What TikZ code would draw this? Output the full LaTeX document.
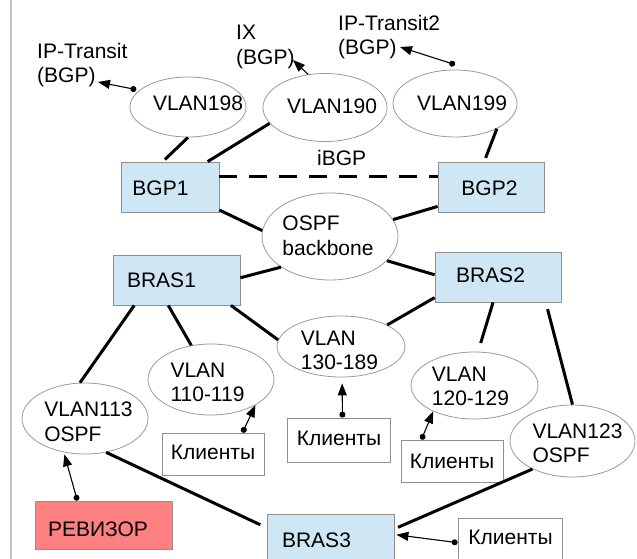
\documentclass[tikz,border=0pt]{standalone}
\usepackage{fontspec}
\setmainfont{Liberation Sans}
\usetikzlibrary{shapes.geometric,arrows.meta}
\definecolor{hostfill}{HTML}{CFE7F5}
\definecolor{auditfill}{HTML}{FF8080}
\definecolor{framegray}{HTML}{8F8F8F}
\definecolor{ringgray}{HTML}{9A9A9A}
\definecolor{railgray}{HTML}{C4C4C4}
\tikzset{
  every node/.style={font=\fontsize{21}{24.5}\selectfont, inner sep=0pt, text=black},
  vlan/.style={ellipse, draw=ringgray, line width=0.8pt, fill=white},
  router/.style={rectangle, draw=framegray, line width=0.8pt, fill=hostfill, minimum height=50pt},
  clients/.style={rectangle, draw=framegray, line width=0.8pt, fill=white, minimum width=102pt, minimum height=42pt},
  audit/.style={rectangle, draw=framegray, line width=0.8pt, fill=auditfill},
  caption/.style n args={3}{label={[xshift=#1pt, yshift=#2pt, align=left]center:#3}},
  link/.style={line width=3pt},
  peering/.style={line width=3pt, dash pattern=on 18pt off 12pt},
  feed/.style={line width=1.1pt, arrows={Circle[length=6pt]-Triangle[length=12pt,width=9pt]}},
  uplink/.style={line width=1.1pt, arrows={-Triangle[length=12pt,width=9pt]}},
  note/.style={anchor=north west, align=left},
}
\begin{document}
\begin{tikzpicture}[x=1pt,y=-1pt]
\useasboundingbox (0,0) rectangle (637,559);
\draw[railgray, line width=1.5pt] (11,0) -- (11,559);

% routers
\node[router, minimum width=98pt,  caption={-9.5}{-1.5}{BGP1}]  (bgp1)  at (170,187) {};
\node[router, minimum width=106pt, caption={-1.5}{-1.5}{BGP2}]  (bgp2)  at (491,187) {};
\node[router, minimum width=127pt, caption={-15}{0}{BRAS1}]     (bras1) at (176.5,280) {};
\node[router, minimum width=126pt, caption={-7.5}{1.5}{BRAS2}]  (bras2) at (498,277) {};
\node[router, minimum width=127pt, caption={-14}{-1.5}{BRAS3}]  (bras3) at (330.5,539) {};
\node[audit, minimum width=137pt, minimum height=48pt, caption={-5.5}{-4}{РЕВИЗОР}] (audit) at (103.5,525) {};

% subscriber groups
\node[clients, caption={0}{1.5}{Клиенты}] (k110) at (213,454) {};
\node[clients, minimum width=103pt, minimum height=44pt, caption={0.5}{1.3}{Клиенты}] (k130) at (338.5,440) {};
\node[clients, caption={0}{0}{Клиенты}] (k120) at (452,461) {};
\node[clients, minimum width=104pt, caption={0.5}{1.5}{Клиенты}] (k3) at (510,539) {};

% VLAN segments
\node[vlan, minimum width=116pt, minimum height=60pt, caption={10}{3.5}{VLAN198}] (v198) at (188,107) {};
\node[vlan, minimum width=124pt, minimum height=68pt, caption={7}{1}{VLAN190}] (v190) at (325,107.5) {};
\node[vlan, minimum width=124pt, minimum height=67pt, caption={7}{0}{VLAN199}] (v199) at (455,103.5) {};
\node[vlan, minimum width=136pt, minimum height=87pt, caption={-2}{0.5}{OSPF\\backbone}] (ospf) at (330,236.5) {};
\node[vlan, minimum width=128pt, minimum height=61pt, caption={-1.5}{-4}{VLAN\\130-189}] (v130) at (341,346.5) {};
\node[vlan, minimum width=126pt, minimum height=71pt, caption={-3.5}{-3}{VLAN\\110-119}] (v110) at (211,379.5) {};
\node[vlan, minimum width=126pt, minimum height=71pt, caption={3.5}{-3.5}{VLAN113\\OSPF}] (v113) at (85,418.5) {};
\node[vlan, minimum width=127pt, minimum height=67pt, caption={-4}{-1}{VLAN\\120-129}] (v120) at (474.5,385.5) {};
\node[vlan, minimum width=125pt, minimum height=72pt, caption={5}{-2.5}{VLAN123\\OSPF}] (v123) at (572.5,441) {};

% upstream labels
\node[note] (ipt)  at (37,43)  {IP-Transit\\(BGP)};
\node[note] (ix)   at (236,25) {IX\\(BGP)};
\node[note] (ipt2) at (338,15) {IP-Transit2\\(BGP)};
\node[anchor=base west] (ibgp) at (317,165) {iBGP};
\coordinate (iptend)  at (98,82);
\coordinate (ixend)   at (293,60);
\coordinate (ipt2end) at (400,47);

% trunk links
\draw[link, shorten >=3pt] (v198.south) -- (bgp1.106);
\draw[link] (v190.196) -- (bgp1.34);
\draw[link, shorten >=4pt] (v199.329) -- (bgp2.105);
\draw[peering] ([yshift=11pt]bgp1.east) -- ([yshift=11pt]bgp2.west);
\draw[link] (bgp1.335) -- (ospf.175);
\draw[link] (bgp2.200) -- (ospf.15);
\draw[link] (ospf.212) -- (bras1.2);
\draw[link] (ospf.337) -- (bras2.178);
\draw[link] (bras1.211) -- (v113.98);
\draw[link] (bras1.252) -- (v110.120);
\draw[link] (bras1.335) -- (v130.174);
\draw[link] (bras2.198) -- (v130.25);
\draw[link, shorten >=9pt] (bras2.259) -- (v120.84);
\draw[link, shorten <=7pt] (bras2.332) -- (v123.north);
\draw[link, shorten >=7pt] (v113.302) -- (bras3.170);
\draw[link, shorten >=4pt] (v123.215) -- (bras3.9);

% upstream and access attachments
\draw[feed, shorten <=3pt] (v198.161) -- (iptend);
\draw[uplink] (v190.117) -- (ixend);
\draw[feed] ([yshift=5pt]v199.north) -- (ipt2end);
\draw[feed] (k110.36) -- (v110.330);
\draw[feed, shorten >=6pt] (k130.80) -- (v130.272);
\draw[feed] (k120.145) -- (v120.212);
\draw[feed, shorten >=2pt] (audit.137) -- (v113.238);
\draw[feed, shorten >=2pt] (k3.184) -- (bras3.4);
\end{tikzpicture}
\end{document}
